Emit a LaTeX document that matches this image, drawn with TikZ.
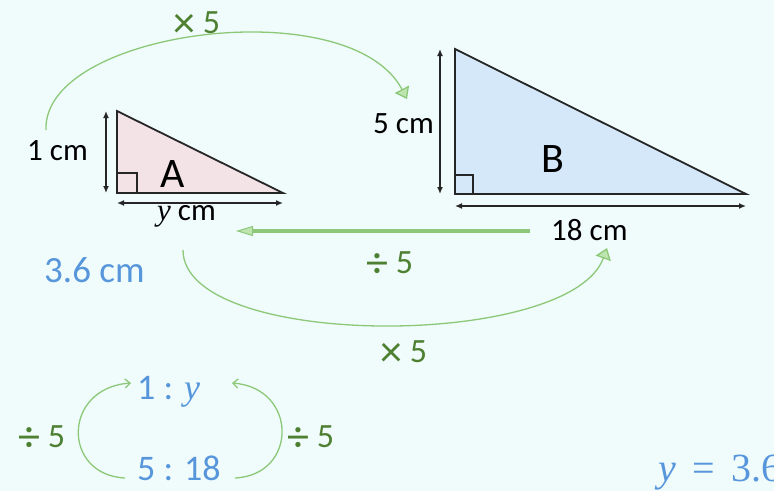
\documentclass[tikz,border=0pt]{standalone}
\usepackage{fontspec}
\setmainfont{Carlito}
\newfontfamily\cambr{Liberation Serif}
\newcommand{\yy}{{\cambr\itshape y}}
\newcommand{\tms}{\raisebox{-4pt}{\fontsize{44}{44}\selectfont ×}}
\newcommand{\dvd}{\raisebox{-4pt}{\fontsize{44}{44}\selectfont ÷}}
\usetikzlibrary{arrows.meta}
\definecolor{bgc}{RGB}{240,252,252}
\definecolor{pinkA}{RGB}{243,226,230}
\definecolor{blueB}{RGB}{213,232,250}
\definecolor{lgreen}{RGB}{140,200,120}
\definecolor{lgreenfill}{RGB}{190,228,175}
\definecolor{tgreen}{RGB}{78,128,50}
\definecolor{tblue}{RGB}{88,150,220}
\begin{document}
\begin{tikzpicture}[x=1pt,y=-1pt,
  lbl/.style={anchor=base west,inner sep=0pt,font=\fontsize{31}{33}\selectfont},
  big/.style={anchor=base west,inner sep=0pt,font=\fontsize{42}{44}\selectfont},
  glbl/.style={anchor=base west,inner sep=0pt,font=\fontsize{34}{36}\selectfont,text=tgreen},
  rlbl/.style={anchor=base west,inner sep=0pt,font=\fontsize{36}{38}\selectfont,text=tblue},
  tri/.style={draw=black!85,line width=1.8pt,line join=miter},
  dim/.style={black!85,line width=1.4pt,{Latex[length=7pt,width=6pt]}-{Latex[length=7pt,width=6pt]}},
  garc/.style={draw=lgreen,line width=1.3pt,-{Triangle[open,fill=lgreenfill,length=11pt,width=16pt]}},
  sarc/.style={draw=lgreen,line width=1.3pt,-{Straight Barb[length=5pt,width=9pt]}},
]
\fill[bgc] (0,0) rectangle (774,491);
\useasboundingbox (0,0) rectangle (774,491);

% triangle A
\coordinate (A1) at (117,111);
\coordinate (A2) at (117,193);
\coordinate (A3) at (283,193);
\filldraw[tri,fill=pinkA] (A1) -- (A2) -- (A3) -- cycle;
\draw[black!85,line width=1.2pt] (117,173) -| (137,193);
\coordinate (Av1) at (106,111);
\coordinate (Av2) at (106,193);
\draw[dim] (Av1) -- (Av2);
\coordinate (Ah1) at (117,203);
\coordinate (Ah2) at (283,203);
\draw[dim] (Ah1) -- (Ah2);

% triangle B
\coordinate (B1) at (455,49);
\coordinate (B2) at (455,194);
\coordinate (B3) at (746,194);
\filldraw[tri,fill=blueB] (B1) -- (B2) -- (B3) -- cycle;
\draw[black!85,line width=1.2pt] (455,175) -| (473,194);
\coordinate (Bv1) at (440,49);
\coordinate (Bv2) at (440,194);
\draw[dim] (Bv1) -- (Bv2);
\coordinate (Bh1) at (455,206);
\coordinate (Bh2) at (746,206);
\draw[dim] (Bh1) -- (Bh2);

% labels
\node[lbl] (l1cm) at (27,160) {1 cm};
\node[big] (lA) at (160,187) {A};
\node[lbl] (lycm) at (157,220) {\yy\ cm};
\node[lbl] (l5cm) at (373,133) {5 cm};
\node[big] (lB) at (541,172) {B};
\node[lbl] (l18) at (551,240) {18 cm};
\node[glbl] (lx5a) at (173,33) {\tms\ 5};
\node[glbl] (ld5) at (366,273) {\dvd\ 5};
\node[glbl] (lx5b) at (380,362) {\tms\ 5};
\node[rlbl,font=\fontsize{37}{39}\selectfont] (l36) at (44,282) {3.6 cm};

% green connectors
\coordinate (ta) at (46,130);
\coordinate (tb) at (407,99);
\draw[garc] (ta) .. controls (42,30) and (350,-10) .. (tb);
\coordinate (ha) at (530,231);
\coordinate (hb) at (236,231);
\draw[draw=lgreen,line width=4pt,-{Triangle[open,fill=lgreenfill,length=17pt,width=10pt,line width=1pt]}] (ha) -- (hb);
\coordinate (ba) at (183,250);
\coordinate (bb) at (607,248);
\draw[garc] (ba) .. controls (183,350) and (570,350) .. (bb);

% ratios
\node[rlbl] (r1) at (137,399) {1 : \yy};
\node[rlbl] (r2) at (137,480) {5 : 18};
\node[glbl] (dl) at (18,447) {\dvd\ 5};
\node[glbl] (dr) at (287,447) {\dvd\ 5};
\coordinate (la) at (125,478);
\coordinate (lb) at (131,383);
\draw[sarc] (la) .. controls (62,475) and (62,388) .. (lb);
\coordinate (rra) at (235,478);
\coordinate (rrb) at (232,383);
\draw[sarc] (rra) .. controls (298,475) and (298,388) .. (rrb);

\node[rlbl,font=\fontsize{40}{42}\cambr] (ans) at (658,481) {\yy\,\ =\ \,3.6};
\end{tikzpicture}
\end{document}
